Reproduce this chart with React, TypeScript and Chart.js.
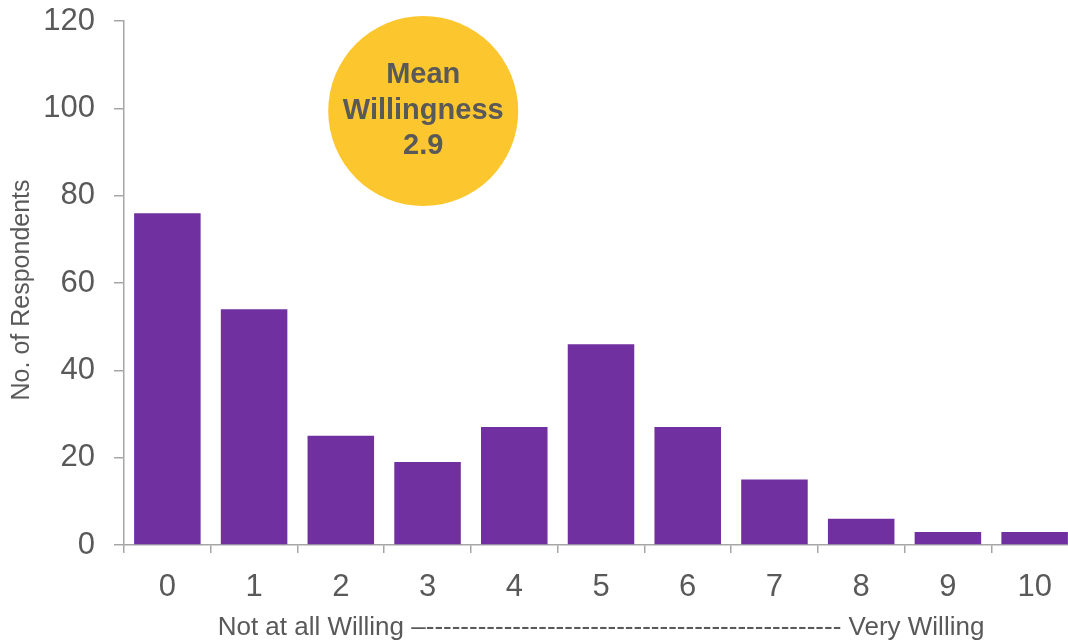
import React, { useEffect, useRef } from "react";
import { Chart, registerables } from "chart.js";

Chart.register(...registerables);

const categories: string[] = ["0", "1", "2", "3", "4", "5", "6", "7", "8", "9", "10"];
const respondents: number[] = [76, 54, 25, 19, 27, 46, 27, 15, 6, 3, 3];
const yTicks: number[] = [0, 20, 40, 60, 80, 100, 120];
const yTitle = "No. of Respondents\u00A0\u00A0";
const xTitle = "Not at all Willing \u2013" + "-".repeat(48) + " Very Willing";
const badgeLines: string[] = ["Mean", "Willingness", "2.9"];
const badgeCenter = { x: 2.95, y: 99.4 };

const FONT = "'Liberation Sans', Arial, Helvetica, sans-serif";
const TEXT = "#595959";
const AXIS = "#A6A6A6";

const badgePlugin = {
  id: "badge",
  afterDatasetsDraw(chart: any) {
    const { ctx, scales } = chart;
    const cx = scales.x.getPixelForValue(badgeCenter.x);
    const cy = scales.y.getPixelForValue(badgeCenter.y);
    ctx.save();
    ctx.beginPath();
    ctx.arc(cx, cy, 95, 0, Math.PI * 2);
    ctx.fillStyle = "#FCC72E";
    ctx.fill();
    ctx.fillStyle = TEXT;
    ctx.font = `bold 29px ${FONT}`;
    ctx.textAlign = "center";
    ctx.textBaseline = "middle";
    const offs = [-36, 0, 35];
    badgeLines.forEach((t, i) => ctx.fillText(t, cx, cy + offs[i]));
    ctx.restore();
  },
};

export default function App() {
  const ref = useRef<HTMLCanvasElement | null>(null);
  useEffect(() => {
    if (!ref.current) return;
    const chart = new Chart(ref.current, {
      type: "bar",
      data: {
        labels: categories,
        datasets: [
          {
            data: respondents,
            backgroundColor: "#7030A0",
            categoryPercentage: 1,
            barPercentage: 0.767,
          },
        ],
      },
      plugins: [badgePlugin],
      options: {
        animation: false,
        responsive: false,
        maintainAspectRatio: false,
        layout: { padding: { top: 21, right: 2, bottom: 0, left: 0 } },
        plugins: { legend: { display: false }, tooltip: { enabled: false } },
        scales: {
          x: {
            grid: {
              drawOnChartArea: false,
              drawTicks: true,
              tickLength: 8,
              color: AXIS,
              lineWidth: 1.5,
              offset: true,
            },
            border: { color: AXIS, width: 1.5 },
            ticks: { color: TEXT, font: { family: FONT, size: 31 }, padding: 16 },
            title: {
              display: true,
              text: xTitle,
              color: TEXT,
              font: { family: FONT, size: 26 },
              padding: { top: 0, bottom: -3 },
            },
            afterFit: (s: any) => {
              s.height = 95;
            },
          },
          y: {
            min: 0,
            max: 120,
            afterBuildTicks: (s: any) => {
              s.ticks = yTicks.map((v) => ({ value: v }));
            },
            grid: {
              drawOnChartArea: false,
              drawTicks: true,
              tickLength: 10,
              color: AXIS,
              lineWidth: 1.5,
            },
            border: { color: AXIS, width: 1.5 },
            ticks: { color: TEXT, font: { family: FONT, size: 31 }, padding: 19 },
            title: {
              display: true,
              text: yTitle,
              color: TEXT,
              font: { family: FONT, size: 25 },
              padding: { top: 7, bottom: 0 },
            },
            afterFit: (s: any) => {
              s.width = 124;
              s.paddingTop = 0;
              s.paddingBottom = 0;
            },
          },
        },
      },
    });
    return () => chart.destroy();
  }, []);
  return (
    <div style={{ position: "absolute", left: 0, top: 0, width: 1068, height: 640, overflow: "hidden", background: "#fff" }}>
      <canvas ref={ref} width={1080} height={640} style={{ display: "block" }} />
    </div>
  );
}
